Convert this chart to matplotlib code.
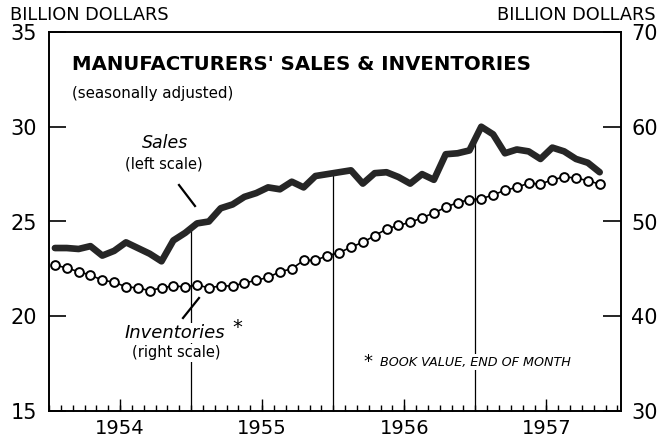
import numpy as np
import matplotlib
matplotlib.use('Agg')
import matplotlib.pyplot as plt
from matplotlib.lines import Line2D

# monthly values, Jan 1954 - Nov 1957 (billion dollars)
years = ['1954', '1955', '1956', '1957']
sales = [23.6, 23.6, 23.55, 23.7, 23.2, 23.45, 23.9, 23.6, 23.3, 22.9, 24.0, 24.4,
         24.9, 25.0, 25.7, 25.9, 26.3, 26.5, 26.8, 26.7, 27.1, 26.8, 27.4, 27.5,
         27.6, 27.7, 27.0, 27.55, 27.6, 27.35, 27.0, 27.5, 27.2, 28.55, 28.6, 28.75,
         30.0, 29.6, 28.6, 28.8, 28.7, 28.3, 28.9, 28.7, 28.3, 28.1, 27.6]
inventories = [45.4, 45.1, 44.7, 44.35, 43.8, 43.6, 43.1, 43.0, 42.7, 43.0, 43.2, 43.1,
               43.3, 43.0, 43.2, 43.2, 43.5, 43.8, 44.1, 44.7, 45.0, 45.9, 45.9, 46.4,
               46.7, 47.3, 47.8, 48.5, 49.2, 49.6, 49.9, 50.4, 50.9, 51.5, 52.0, 52.3,
               52.4, 52.8, 53.3, 53.6, 54.05, 53.95, 54.4, 54.7, 54.6, 54.3, 53.95]
left_ticks = [15, 20, 25, 30, 35]
right_ticks = [30, 40, 50, 60, 70]

W, H = 659, 440
months = np.arange(len(sales)) + 0.5


def px(x, y):
    # pixel position -> figure fraction
    return x / W, 1 - y / H


fig = plt.figure(figsize=(W / 100, H / 100), dpi=100)
ax = fig.add_axes([49 / W, 1 - 411 / H, (621 - 49) / W, (411 - 32) / H])
ax2 = ax.twinx()

ax.set_xlim(0, 48.3)
ax.set_ylim(15, 35)
ax2.set_ylim(30, 70)

for a in (ax, ax2):
    for s in a.spines.values():
        s.set_linewidth(1.2)

# year boundary lines up to the sales curve
bounds = [12, 24, 36]
ax.vlines(bounds, 15, np.interp(bounds, months, sales), color='black', lw=0.9, zorder=1)

ax.plot(months, sales, color='#262626', lw=4.8, solid_capstyle='round',
        solid_joinstyle='round', zorder=3)
ax2.plot(months, inventories, '-o', color='black', lw=1.2, ms=6.3, mfc='white',
         mew=1.4, zorder=2)

# y axes
ax.set_yticks(left_ticks)
ax.tick_params(axis='y', direction='in', length=12, width=1.2, pad=8.5, labelsize=15)
ax2.set_yticks(right_ticks)
ax2.tick_params(axis='y', direction='in', length=13, width=1.2, pad=7.5, labelsize=15)

# x axis: month ticks and mid-year ticks with year labels
ax.xaxis.remove_overlapping_locs = False
ax.set_xticks(np.arange(0, 49))
ax.set_xticklabels([])
ax.set_xticks([6, 18, 30, 42], minor=True)
ax.set_xticklabels(years, minor=True)
ax.tick_params(axis='x', which='major', direction='in', length=4.5, width=1.0)
ax.tick_params(axis='x', which='minor', direction='in', length=9, width=1.0,
               pad=6, labelsize=14)

# texts
fig.text(*px(10, 15), 'BILLION DOLLARS', fontsize=12.8, va='center', ha='left')
fig.text(*px(656, 15), 'BILLION DOLLARS', fontsize=12.8, va='center', ha='right')
fig.text(*px(72, 65), "MANUFACTURERS' SALES & INVENTORIES", fontsize=14.2,
         fontweight='bold', va='center', ha='left')
fig.text(*px(72, 93), '(seasonally adjusted)', fontsize=10.8, va='center', ha='left')

box = dict(facecolor='white', edgecolor='none', pad=1)
fig.text(*px(165, 143), 'Sales', fontsize=12.5, style='italic', va='center', ha='center')
fig.text(*px(164, 164), '(left scale)', fontsize=10.5, va='center', ha='center')
fig.text(*px(175, 333), 'Inventories', fontsize=13, style='italic', va='center',
         ha='center', bbox=box)
fig.text(*px(237, 327), '*', fontsize=14, va='center', ha='center')
fig.text(*px(176, 353), '(right scale)', fontsize=10.5, va='center', ha='center', bbox=box)
fig.text(*px(368, 362), '*', fontsize=13, va='center', ha='center')
fig.text(*px(380, 362), 'BOOK VALUE, END OF MONTH', fontsize=9.2, style='italic',
         va='center', ha='left', bbox=box)

# pointer strokes
for (x0, y0), (x1, y1) in [((179, 185), (195, 206)), ((183, 318), (199, 298))]:
    fig.add_artist(Line2D([x0 / W, x1 / W], [1 - y0 / H, 1 - y1 / H], color='black', lw=1.6))

fig.savefig('out.png', dpi=100)
